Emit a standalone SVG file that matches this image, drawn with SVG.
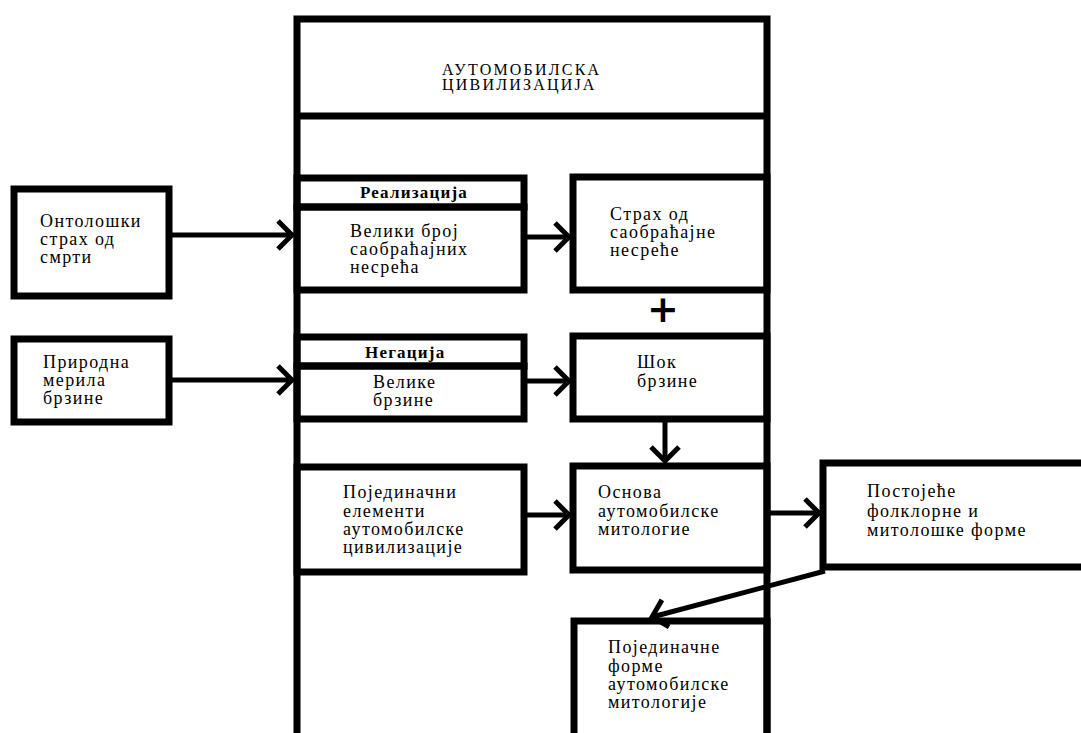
<svg xmlns="http://www.w3.org/2000/svg" width="1081" height="733" viewBox="0 0 1081 733">
<style>
.box{fill:none;stroke:#000;stroke-width:7;stroke-linejoin:miter}
.frame{fill:none;stroke:#000;stroke-width:7}
.t{font-family:"Liberation Serif","Times New Roman",serif;font-size:18px;letter-spacing:1.4px;fill:#000}
.title{font-family:"Liberation Serif","Times New Roman",serif;font-size:16px;letter-spacing:2.2px;fill:#000}
.lbl{font-family:"Liberation Serif","Times New Roman",serif;font-size:17px;font-weight:bold;letter-spacing:1.2px;fill:#000}
.plus{font-family:"DejaVu Sans",sans-serif;font-size:38px;font-weight:bold;fill:#000}
.conn{fill:none;stroke:#000;stroke-width:5}
</style>
<defs>
<marker id="chev" markerUnits="userSpaceOnUse" viewBox="-18 -18 22 36" refX="0" refY="0" markerWidth="22" markerHeight="36" orient="auto" overflow="visible">
<path d="M-14,-14 L0,0 L-14,14" fill="none" stroke="#000" stroke-width="5"/>
</marker>
</defs>
<rect width="1081" height="733" fill="#fff"/>
<g id="frame">
<path class="frame" d="M297,740 L297,19 L767,19 L767,740"/>
</g>
<g id="title">
<line x1="297" y1="116" x2="767" y2="116" stroke="#000" stroke-width="7"/>
<text class="title" x="442" y="75">АУТОМОБИЛСКА</text>
<text class="title" x="442" y="90">ЦИВИЛИЗАЦИЈА</text>
</g>
<g id="ontoloski">
<rect class="box" x="14" y="189" width="155" height="107"/>
<text class="t" x="40" y="227">Онтолошки</text>
<text class="t" x="40" y="245">страх од</text>
<text class="t" x="40" y="263">смрти</text>
</g>
<g id="prirodna">
<rect class="box" x="14" y="339" width="155" height="83"/>
<text class="t" x="43" y="368">Природна</text>
<text class="t" x="43" y="386">мерила</text>
<text class="t" x="43" y="404">брзине</text>
</g>
<g id="realizacija">
<rect class="box" x="297" y="178" width="227" height="29"/>
<text class="lbl" x="360" y="198">Реализација</text>
</g>
<g id="veliki-broj">
<rect class="box" x="297" y="207" width="227" height="83"/>
<text class="t" x="350" y="237">Велики број</text>
<text class="t" x="350" y="255">саобраћајних</text>
<text class="t" x="350" y="273">несрећа</text>
</g>
<g id="strah">
<rect class="box" x="573" y="177" width="194" height="113"/>
<text class="t" x="610" y="220">Страх од</text>
<text class="t" x="610" y="238">саобраћајне</text>
<text class="t" x="610" y="256">несреће</text>
</g>
<g id="plus">
<text class="plus" x="663" y="322" text-anchor="middle">+</text>
</g>
<g id="negacija">
<rect class="box" x="297" y="337" width="227" height="29"/>
<text class="lbl" x="365" y="358">Негација</text>
</g>
<g id="velike-brzine">
<rect class="box" x="297" y="366" width="227" height="53"/>
<text class="t" x="373" y="388">Велике</text>
<text class="t" x="373" y="406">брзине</text>
</g>
<g id="sok">
<rect class="box" x="573" y="336" width="194" height="83"/>
<text class="t" x="637" y="368">Шок</text>
<text class="t" x="637" y="387">брзине</text>
</g>
<g id="pojedinacni">
<rect class="box" x="297" y="467" width="227" height="105"/>
<text class="t" x="343" y="498">Појединачни</text>
<text class="t" x="343" y="517">елементи</text>
<text class="t" x="343" y="535">аутомобилске</text>
<text class="t" x="343" y="553">цивилизације</text>
</g>
<g id="osnova">
<rect class="box" x="573" y="466" width="194" height="104"/>
<text class="t" x="598" y="498">Основа</text>
<text class="t" x="598" y="517">аутомобилске</text>
<text class="t" x="598" y="535">митологие</text>
</g>
<g id="postojece">
<rect class="box" x="823" y="463" width="270" height="104"/>
<text class="t" x="867" y="497">Постојеће</text>
<text class="t" x="867" y="517">фолклорне и</text>
<text class="t" x="867" y="536">митолошке форме</text>
</g>
<g id="pojedinacne">
<rect class="box" x="574" y="621" width="193" height="130"/>
<text class="t" x="608" y="653">Појединачне</text>
<text class="t" x="608" y="672">форме</text>
<text class="t" x="608" y="690">аутомобилске</text>
<text class="t" x="608" y="708">митологије</text>
</g>
<g id="connectors">
<line class="conn" x1="172" y1="235" x2="292" y2="235" marker-end="url(#chev)"/>
<line class="conn" x1="172" y1="380" x2="292" y2="380" marker-end="url(#chev)"/>
<line class="conn" x1="527" y1="237" x2="569" y2="237" marker-end="url(#chev)"/>
<line class="conn" x1="527" y1="381" x2="569" y2="381" marker-end="url(#chev)"/>
<line class="conn" x1="665" y1="422" x2="665" y2="461" marker-end="url(#chev)"/>
<line class="conn" x1="527" y1="515" x2="569" y2="515" marker-end="url(#chev)"/>
<line class="conn" x1="770" y1="513" x2="819" y2="513" marker-end="url(#chev)"/>
<line class="conn" x1="825" y1="571" x2="652" y2="617" marker-end="url(#chev)"/>
</g>
</svg>
